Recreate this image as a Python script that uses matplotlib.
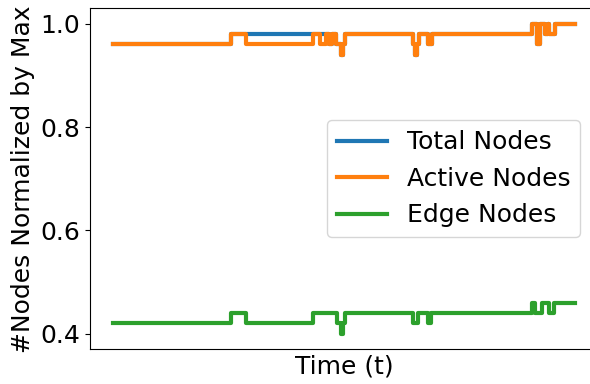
import matplotlib
matplotlib.use("Agg")
import matplotlib.pyplot as plt

# step breakpoints: time index -> normalized node count (held until next breakpoint)
total_t = [0, 118, 213, 216, 219, 223, 228, 230, 232, 300, 302, 304, 306, 315, 319,
           419, 424, 427, 432, 435, 436, 442, 462]
total_v = [0.96, 0.98, 0.98, 0.96, 0.98, 0.96, 0.94, 0.96, 0.98, 0.96, 0.94, 0.96, 0.98, 0.96, 0.98,
           1.00, 0.96, 1.00, 0.98, 1.00, 0.98, 1.00, 1.00]

active_t = [0, 118, 133, 200, 207, 213, 216, 219, 223, 228, 230, 232, 300, 302, 304, 306, 315, 319,
            419, 424, 427, 432, 435, 436, 442, 462]
active_v = [0.96, 0.98, 0.96, 0.98, 0.96, 0.98, 0.96, 0.98, 0.96, 0.94, 0.96, 0.98, 0.96, 0.94, 0.96,
            0.98, 0.96, 0.98, 1.00, 0.96, 1.00, 0.98, 1.00, 0.98, 1.00, 1.00]

edge_t = [0, 118, 133, 200, 224, 228, 230, 232, 300, 305, 315, 318, 419, 422, 429, 436, 441, 462]
edge_v = [0.42, 0.44, 0.42, 0.44, 0.42, 0.40, 0.42, 0.44, 0.42, 0.44, 0.42, 0.44, 0.46, 0.44, 0.46,
          0.44, 0.46, 0.46]

plt.rcParams['font.size'] = 18

fig = plt.figure(figsize=(5.9, 3.84), dpi=100)
ax = fig.add_axes([90/590, 34.7/384, 508/590, 341/384])

ax.plot(total_t, total_v, drawstyle='steps-post', lw=3, label='Total Nodes')
ax.plot(active_t, active_v, drawstyle='steps-post', lw=3, label='Active Nodes')
ax.plot(edge_t, edge_v, drawstyle='steps-post', lw=3, label='Edge Nodes')

ax.set_xticks([])
ax.set_yticks([0.4, 0.6, 0.8, 1.0])
ax.set_xlabel('Time (t)')
ax.set_ylabel('#Nodes Normalized by Max')
ax.legend(loc='center right', bbox_to_anchor=(0.99, 0.5))

fig.savefig('out.png', dpi=100)
